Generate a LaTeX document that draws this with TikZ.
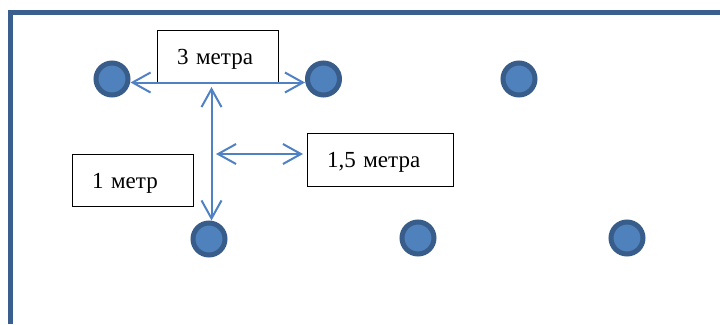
\documentclass[tikz,border=0pt]{standalone}
\usepackage{fontspec}
\setmainfont{Liberation Serif}
\usepackage{tikz}
\usetikzlibrary{arrows.meta}
\definecolor{framecol}{HTML}{3A5F8E}
\definecolor{spotline}{HTML}{385D8A}
\definecolor{spotfill}{HTML}{4F81BD}
\definecolor{distcol}{HTML}{4F81C4}

\begin{document}
\begin{tikzpicture}[x=1pt,y=-1pt,
	spot/.style={circle,draw=spotline,fill=spotfill,line width=5pt,minimum size=32pt,inner sep=0pt},
	dist/.style={draw=distcol,line width=2pt,{Straight Barb[length=18pt,width=20pt]}-{Straight Barb[length=18pt,width=20pt]}},
	sign/.style={draw=black,fill=white,line width=0.8pt,minimum height=52pt,inner xsep=20pt,text height=19pt,text depth=3pt,align=left,font=\fontsize{23}{27}\selectfont}]
					
					\useasboundingbox (0,0) rectangle (720,324);
					
					%\draw[step=20,black,thin] (0,0) grid (720,324);
					
					\draw [framecol,line width=5pt] (720,12.5)--(10.5,12.5)--(10.5,324);
					
					\node [spot] (c1) at (112,79) {};
					\node [spot] (c2) at (323.5,79) {};
					\node [spot] (c3) at (519,79) {};
					\node [spot] (b1) at (209,239) {};
					\node [spot] (b2) at (418,238) {};
					\node [spot] (b3) at (627,238) {};
					
					
					
					\node [sign,text width=81pt] (three) at (217.5,56) {3 метра};
					\node [sign,text width=106pt,minimum height=53pt] (fiveh) at (380,159.5) {1,5 метра};
					\node [sign,text width=81pt] (one) at (132.5,180) {1 метр};
					
					
					
					\coordinate (vtop) at (211.5,87);
					\coordinate (mleft) at (216,154);
					\coordinate (mright) at (303,154);
					
					\draw [dist] ([yshift=-3.5pt]c1.east)--([yshift=-3.5pt]c2.west);
					\draw [dist] (vtop)--(vtop |- b1.north);
					\draw [dist] (mleft)--(mright);
					
					
				\end{tikzpicture}
\end{document}
